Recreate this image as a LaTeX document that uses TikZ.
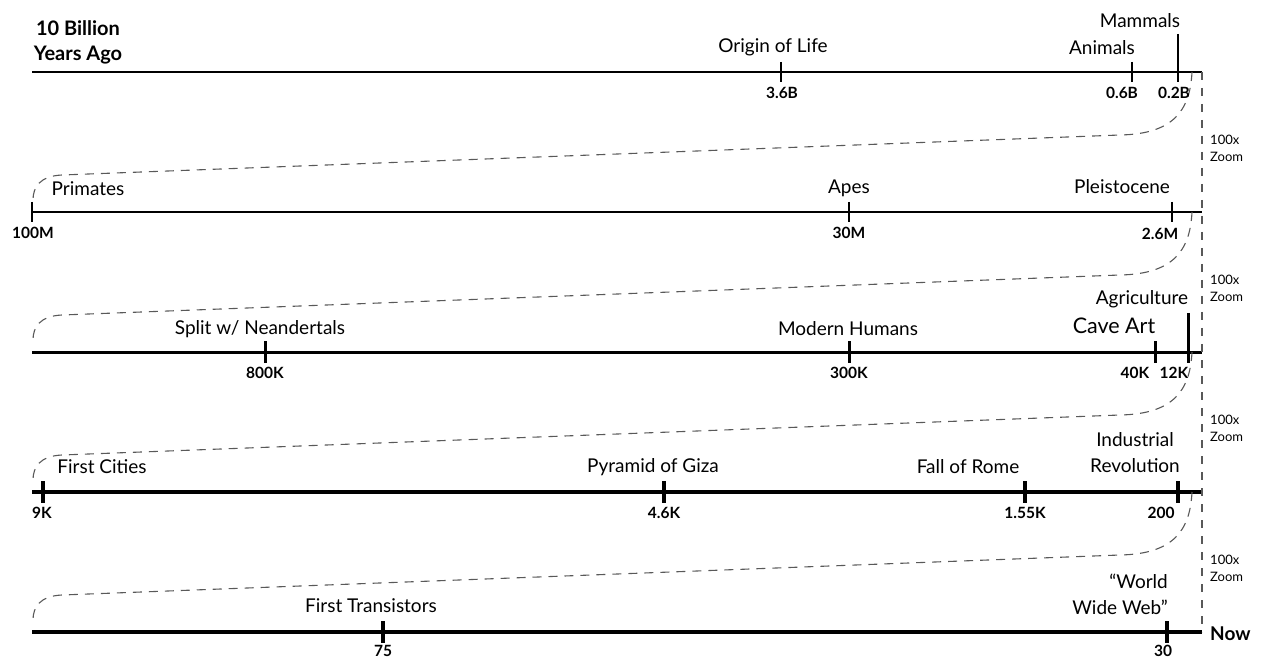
\documentclass[tikz,border=0pt]{standalone}
\usepackage{fontspec}
\setmainfont{Lato}
\begin{document}
\begin{tikzpicture}[x=1pt, y=-1pt, line join=round,
  lbl/.style={font=\fontsize{19}{26}\selectfont, inner sep=0pt},
  val/.style={font=\bfseries\fontsize{15.5}{18}\selectfont, inner sep=0pt},
  zoomtxt/.style={font=\fontsize{13}{17}\selectfont, align=left, inner sep=0pt, anchor=west},
  zoomline/.style={line width=1.1pt, gray!70!black, dash pattern=on 9pt off 7pt}]
  \useasboundingbox (0,0) rectangle (1261,660);

  % timeline rows
  \coordinate (R1s) at (32,72);   \coordinate (R1e) at (1202,72);
  \coordinate (R2s) at (32,212);  \coordinate (R2e) at (1202,212);
  \coordinate (R3s) at (32,352);  \coordinate (R3e) at (1202,352);
  \coordinate (R4s) at (32,492);  \coordinate (R4e) at (1202,492);
  \coordinate (R5s) at (32,632);  \coordinate (R5e) at (1202,632);

  \draw[line width=2pt] (R1s)--(R1e);
  \draw[line width=2.5pt] (R2s)--(R2e);
  \draw[line width=3pt] (R3s)--(R3e);
  \draw[line width=3.5pt] (R4s)--(R4e);
  \draw[line width=4pt] (R5s)--(R5e);

  % zoom guides
  \draw[gray!70!black, line width=1.1pt, dash pattern=on 8pt off 8pt] (R1e)--(R5e);
  \foreach \y in {72,212,352,492}
    \draw[zoomline] (1192,\y) .. controls (1190,\y+40) and (1172,\y+62) .. (1120,\y+63)
      -- (62,\y+103) .. controls (40,\y+104) and (33,\y+115) .. (33,\y+128);
  \foreach \y/\n in {140/z1,280/z2,420/z3,560/z4}
    \node[zoomtxt] (\n) at (1210,\y+8) {100x\\Zoom};

  % row 1
  \coordinate (T36B) at (781,72);
  \coordinate (T06B) at (1132,72);
  \coordinate (T02B) at (1178,72);
  \draw[line width=2pt] (T36B)++(0,-10)--++(0,20);
  \draw[line width=2pt] (T06B)++(0,-10)--++(0,20);
  \draw[line width=2pt] (T02B)++(0,-38)--++(0,48);
  \node[font=\bfseries\fontsize{20}{25}\selectfont, align=center, inner sep=0pt] (start) at (78,42) {10 Billion\\Years Ago};
  \node[lbl] (life) at (773,47) {Origin of Life};
  \node[lbl] (animals) at (1102,48) {Animals};
  \node[lbl] (mammals) at (1140,21) {Mammals};
  \node[val] (v36B) at (782,93) {3.6B};
  \node[val] (v06B) at (1122,93) {0.6B};
  \node[val] (v02B) at (1174,93) {0.2B};

  % row 2
  \coordinate (T100M) at (32,212);
  \coordinate (T30M) at (849,212);
  \coordinate (T26M) at (1172,212);
  \draw[line width=2.5pt] (T100M)++(0,-10)--++(0,20);
  \draw[line width=2.5pt] (T30M)++(0,-10)--++(0,20);
  \draw[line width=2.5pt] (T26M)++(0,-10)--++(0,20);
  \node[lbl] (primates) at (88,189) {Primates};
  \node[lbl] (apes) at (849,188) {Apes};
  \node[lbl] (pleisto) at (1122,187) {Pleistocene};
  \node[val] (v100M) at (33,233) {100M};
  \node[val] (v30M) at (849,233) {30M};
  \node[val] (v26M) at (1160,234) {2.6M};

  % row 3
  \coordinate (T800K) at (265,352);
  \coordinate (T300K) at (849,352);
  \coordinate (T40K) at (1155,352);
  \coordinate (T12K) at (1188,352);
  \draw[line width=3pt] (T800K)++(0,-11)--++(0,22);
  \draw[line width=3pt] (T300K)++(0,-11)--++(0,22);
  \draw[line width=3pt] (T40K)++(0,-11)--++(0,22);
  \draw[line width=3pt] (T12K)++(0,-39)--++(0,50);
  \node[lbl] (split) at (260,329) {Split w/ Neandertals};
  \node[lbl] (humans) at (848,329) {Modern Humans};
  \node[font=\fontsize{21.5}{24}\selectfont, inner sep=0pt] (caveart) at (1114,326) {Cave Art};
  \node[lbl] (agri) at (1142,299) {Agriculture};
  \node[val] (v800K) at (265,373) {800K};
  \node[val] (v300K) at (849,373) {300K};
  \node[val] (v40K) at (1135,373) {40K};
  \node[val] (v12K) at (1174,373) {12K};

  % row 4
  \coordinate (T9K) at (43,492);
  \coordinate (T46K) at (664,492);
  \coordinate (T155K) at (1025,492);
  \coordinate (T200) at (1178,492);
  \draw[line width=3.5pt] (T9K)++(0,-11)--++(0,22);
  \draw[line width=3.5pt] (T46K)++(0,-11)--++(0,22);
  \draw[line width=3.5pt] (T155K)++(0,-11)--++(0,22);
  \draw[line width=3.5pt] (T200)++(0,-11)--++(0,22);
  \node[lbl] (cities) at (102,467) {First Cities};
  \node[lbl] (giza) at (653,467) {Pyramid of Giza};
  \node[lbl] (rome) at (968,467) {Fall of Rome};
  \node[lbl, align=center] (indus) at (1135,453) {Industrial\\Revolution};
  \node[val] (v9K) at (42,513) {9K};
  \node[val] (v46K) at (664,513) {4.6K};
  \node[val] (v155K) at (1025,513) {1.55K};
  \node[val] (v200) at (1161,513) {200};

  % row 5
  \coordinate (T75) at (383,632);
  \coordinate (T30) at (1167,632);
  \draw[line width=4pt] (T75)++(0,-11)--++(0,22);
  \draw[line width=4pt] (T30)++(0,-11)--++(0,22);
  \node[lbl] (trans) at (371,606) {First Transistors};
  \node[lbl, align=right, anchor=east] (www) at (1168,594) {“World\\Wide Web”};
  \node[val] (v75) at (383,651) {75};
  \node[val] (v30) at (1163,651) {30};
  \node[font=\bfseries\fontsize{19}{22}\selectfont, inner sep=0pt, anchor=west] (now) at (1210,634) {Now};
\end{tikzpicture}
\end{document}
